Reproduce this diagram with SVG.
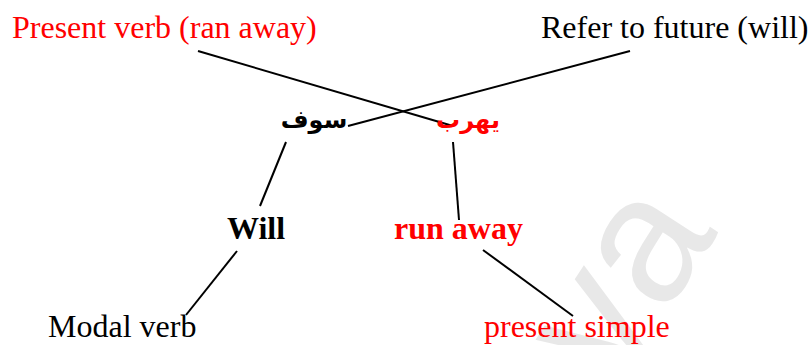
<svg xmlns="http://www.w3.org/2000/svg" width="811" height="345" viewBox="0 0 811 345">
<style>
.t{font-family:"Liberation Serif","Times New Roman",serif;font-size:32px}
.b{font-weight:bold}
.red{fill:#ff0000}
.blk{fill:#000000}
.ar{font-family:"DejaVu Sans",sans-serif;font-size:24px;font-weight:bold}
.c line{stroke:#000;stroke-width:2;stroke-linecap:butt}
.wm{font-family:"Liberation Sans",Arial,sans-serif;font-size:180px;fill:#e8e8e8}
</style>
<rect width="811" height="345" fill="#ffffff"/>
<g id="watermark"><text class="wm" transform="translate(615,392) rotate(-57)">va</text></g>
<g id="connectors" class="c">
<line x1="198" y1="51" x2="453" y2="126"/>
<line x1="630" y1="51" x2="348" y2="126"/>
<line x1="286" y1="142" x2="260" y2="206"/>
<line x1="453" y1="142" x2="459" y2="220"/>
<line x1="237" y1="251" x2="186" y2="315"/>
<line x1="483" y1="250" x2="573" y2="316"/>
</g>
<g id="present-verb"><text class="t red" x="12" y="38">Present verb (ran away)</text></g>
<g id="refer-future"><text class="t blk" x="541" y="38">Refer to future (will)</text></g>
<g id="sawfa"><text class="ar blk" x="314" y="128" text-anchor="middle" direction="rtl">سوف</text></g>
<g id="yahrub"><text class="ar red" x="468" y="128" text-anchor="middle" direction="rtl">يهرب</text></g>
<g id="will"><text class="t b blk" x="227" y="239">Will</text></g>
<g id="run-away"><text class="t b red" x="394" y="239">run away</text></g>
<g id="modal-verb"><text class="t blk" x="48" y="337">Modal verb</text></g>
<g id="present-simple"><text class="t red" x="484" y="337">present simple</text></g>
</svg>
